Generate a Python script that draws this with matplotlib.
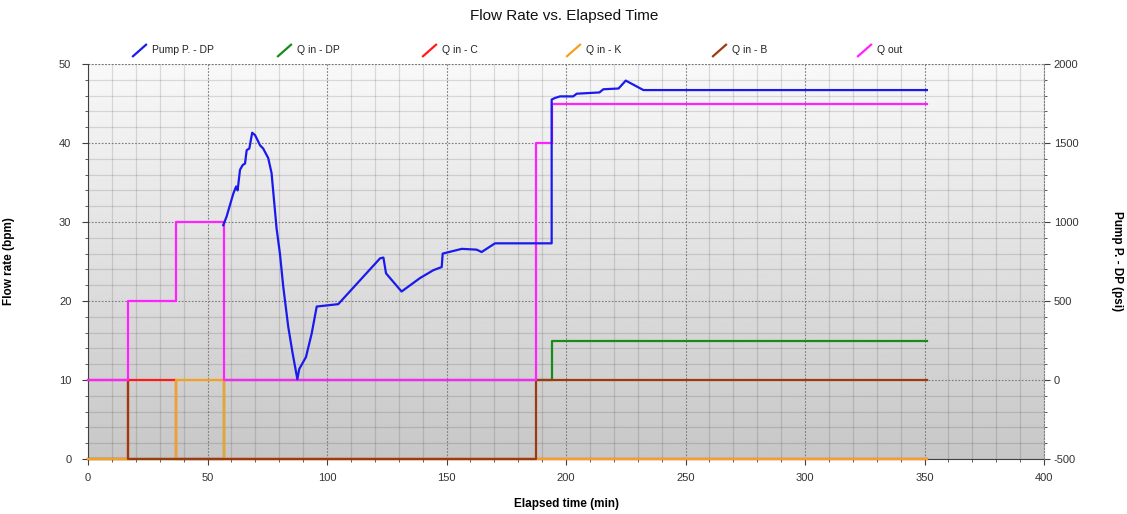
import numpy as np
import matplotlib
matplotlib.use("Agg")
import matplotlib.pyplot as plt
from matplotlib.lines import Line2D
from matplotlib.legend_handler import HandlerBase
from matplotlib.ticker import MultipleLocator

plt.rcParams['font.family'] = ['Liberation Sans', 'DejaVu Sans']
plt.rcParams['axes.unicode_minus'] = False

# --- datos ---
pump_t = [56.6, 58.0, 60.8, 62.0, 62.6, 63.6, 64.7, 65.7, 66.4, 67.5, 68.7, 69.9,
          72.0, 73.3, 75.4, 76.8, 78.9, 80.3, 81.7, 83.8, 85.6, 87.6, 88.4, 91.2,
          93.6, 95.7, 104.7, 122.2, 123.6, 124.7, 131.2, 138.9, 144.5, 148.0,
          148.4, 156.4, 162.6, 164.7, 170.3, 194.0, 194.0, 195.4, 197.5, 203.0,
          204.5, 214.0, 215.6, 222.0, 225.0, 232.4, 351.0]
pump_psi = [980, 1035, 1180, 1225, 1200, 1330, 1360, 1370, 1455, 1465, 1565, 1550,
            1485, 1465, 1405, 1310, 960, 800, 590, 335, 170, 5, 70, 145,
            295, 465, 480, 770, 775, 675, 560, 645, 695, 715,
            800, 830, 825, 810, 865, 865, 1775, 1785, 1795, 1795,
            1812, 1820, 1840, 1845, 1895, 1835, 1835]

qdp_t = [0, 56.7, 194.0, 351.0]
qdp = [0, 10, 15, 15]
qc_t = [0, 16.7, 36.7, 351.0]
qc = [0, 10, 0, 0]
qk_t = [0, 36.7, 56.7, 351.0]
qk = [0, 10, 0, 0]
qb_t = [0, 16.7, 187.3, 351.0]
qb = [10, 0, 10, 10]
qout_t = [0, 16.7, 36.7, 56.7, 187.4, 194.0, 351.0]
qout = [10, 20, 30, 10, 40, 45, 45]


class DiagHandler(HandlerBase):
    # marcador de leyenda en diagonal
    def create_artists(self, legend, orig_handle, xdescent, ydescent,
                       width, height, fontsize, trans):
        x0, y0 = -xdescent, -ydescent
        ln = Line2D([x0, x0 + width], [y0 - 0.15 * height, y0 + height],
                    color=orig_handle.get_color(), lw=1.6, transform=trans)
        return [ln]


fig = plt.figure(figsize=(11.27, 5.14), dpi=100)
ax = fig.add_axes([88 / 1127, 1 - 459 / 514, 956 / 1127, 395 / 514])

# fondo degradado
ax.imshow(np.linspace(0.975, 0.78, 256).reshape(-1, 1), cmap='gray', vmin=0, vmax=1,
          aspect='auto', extent=(0, 1, 0, 1), transform=ax.transAxes, zorder=0)

lw = 1.6
l_dp, = ax.plot(qdp_t, qdp, drawstyle='steps-post', color='#1a8a1a', lw=lw, clip_on=False, zorder=3)
l_c, = ax.plot(qc_t, qc, drawstyle='steps-post', color='#ff1a1a', lw=lw, clip_on=False, zorder=3)
l_k, = ax.plot(qk_t, qk, drawstyle='steps-post', color='#f5a020', lw=lw, clip_on=False, zorder=3)
l_b, = ax.plot(qb_t, qb, drawstyle='steps-post', color='#9c3a12', lw=lw, clip_on=False, zorder=3)
l_out, = ax.plot(qout_t, qout, drawstyle='steps-post', color='#ff22ff', lw=lw, clip_on=False, zorder=3)

ax.set_xlim(0, 400)
ax.set_ylim(0, 50)
ax.xaxis.set_major_locator(MultipleLocator(50))
ax.xaxis.set_minor_locator(MultipleLocator(10))
ax.yaxis.set_major_locator(MultipleLocator(10))
ax.yaxis.set_minor_locator(MultipleLocator(2))
ax.grid(which='major', color='#7a7a7a', linestyle=(0, (1.5, 1.5)), lw=0.8, zorder=1)
ax.grid(which='minor', color='black', alpha=0.12, linestyle='-', lw=0.9, zorder=1)
ax.set_axisbelow(True)

for s in ['top', 'right']:
    ax.spines[s].set_visible(False)
ax.spines['left'].set_color('#404040')
ax.spines['bottom'].set_color('#404040')
ax.tick_params(which='major', length=4, color='#404040', labelsize=8, labelcolor='#333333')
ax.tick_params(axis='y', pad=8)
ax.tick_params(axis='x', pad=6)
ax.tick_params(which='minor', length=2.5, color='#404040')

ax2 = ax.twinx()
l_pump, = ax2.plot(pump_t, pump_psi, color='#1a1aee', lw=lw, zorder=4)
ax2.set_ylim(-500, 2000)
ax2.yaxis.set_major_locator(MultipleLocator(500))
ax2.yaxis.set_minor_locator(MultipleLocator(100))
for s in ['top', 'left', 'bottom']:
    ax2.spines[s].set_visible(False)
ax2.spines['right'].set_color('#808080')
ax2.spines['right'].set_linestyle((0, (1.5, 1.5)))
ax2.spines['right'].set_linewidth(0.8)
ax2.tick_params(which='major', length=4, color='#404040', labelsize=8, labelcolor='#333333', pad=3)
ax2.tick_params(which='minor', length=2.5, color='#404040')

# linea punteada superior
ax.axhline(50, color='#7a7a7a', linestyle=(0, (1.5, 1.5)), lw=0.8, zorder=1)

ax.set_ylabel('Flow rate (bpm)', fontweight='bold', fontsize=8.5)
ax.yaxis.set_label_coords(-73 / 956, 0.5)
ax.set_xlabel('Elapsed time (min)', fontweight='bold', fontsize=8.5)
ax.xaxis.set_label_coords(0.5, -39 / 395)
ax2.set_ylabel('Pump P. - DP (psi)', fontweight='bold', fontsize=8.5, rotation=-90, va='center')
ax2.yaxis.set_label_coords(1029 / 956, 0.5)

fig.text(564 / 1127, 1 - 16 / 514, 'Flow Rate vs. Elapsed Time', ha='center', va='center',
         fontsize=11, color='#111111')

# leyenda repartida sobre el grafico
handles = [l_pump, l_dp, l_c, l_k, l_b, l_out]
labels = ['Pump P. - DP', 'Q in - DP', 'Q in - C', 'Q in - K', 'Q in - B', 'Q out']
x_px = [133, 278, 423, 567, 713, 858]
for h, lab, xp in zip(handles, labels, x_px):
    fig.legend([h], [lab], loc='center left', bbox_to_anchor=(xp / 1127, 1 - 50 / 514),
               frameon=False, fontsize=7.5, borderaxespad=0, borderpad=0,
               handlelength=1.25, handleheight=1.1, handletextpad=0.6,
               handler_map={Line2D: DiagHandler()}, labelcolor='#222222')

fig.savefig('out.png', dpi=100)
